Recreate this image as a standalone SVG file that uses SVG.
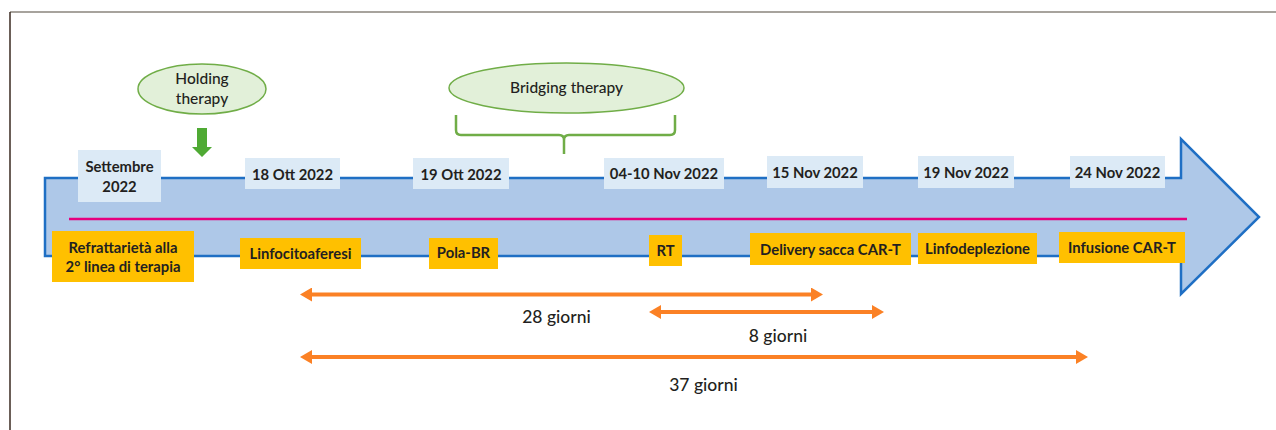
<svg xmlns="http://www.w3.org/2000/svg" width="1276" height="430" viewBox="0 0 1276 430">
<style>
text{font-family:Lato,"Liberation Sans",sans-serif;fill:#231F20;text-anchor:middle}
.date{fill:#DCEAF6}
.lab{fill:#FFC000}
.bt{font-size:14.8px;font-weight:bold}
.et{font-size:15.5px;font-weight:500}
.gt{font-size:17.5px;font-weight:500}
.ell{fill:#E2F0D9;stroke:#70AD47;stroke-width:1.5}
.dur{stroke:#FB8125;stroke-width:4;fill:none;marker-start:url(#ah);marker-end:url(#ah)}
</style>
<defs>
<marker id="ah" viewBox="0 0 12 14" refX="2" refY="7" markerWidth="12" markerHeight="14" markerUnits="userSpaceOnUse" orient="auto-start-reverse">
<path d="M0,0 L12,7 L0,14 z" fill="#FB8125"/>
</marker>
</defs>
<rect width="1276" height="430" fill="#fff"/>
<g id="frame">
<line x1="10" y1="12" x2="1276" y2="12" stroke="#8A857D" stroke-width="1.5"/>
<line x1="10" y1="12" x2="10" y2="430" stroke="#3A2A20" stroke-width="1.5"/>
</g>
<g id="timeline">
<polygon points="45,178 1181,178 1181,139 1259,217 1181,294 1181,256 45,256" fill="#AEC8E8" stroke="#1F6FC4" stroke-width="2.5" stroke-linejoin="miter"/>
<line x1="69" y1="219" x2="1187" y2="219" stroke="#E6007E" stroke-width="2.5"/>
</g>
<g id="holding">
<ellipse class="ell" cx="202" cy="89" rx="64" ry="25"/>
<text class="et" x="202" y="84">Holding</text>
<text class="et" x="202" y="104">therapy</text>
<polygon points="197,128 207,128 207,147 212,147 202,157 192,147 197,147" fill="#4FAA34"/>
</g>
<g id="bridging">
<ellipse class="ell" cx="566.5" cy="88" rx="117.5" ry="25"/>
<text class="et" x="566.5" y="93">Bridging therapy</text>
<path d="M456,115 V130 q0,5 5,5 H559 q5,0 5,5 V154 M675,115 V130 q0,5 -5,5 H569 q-5,0 -5,5" fill="none" stroke="#70AD47" stroke-width="2.5"/>
</g>
<g id="d-set"><rect class="date" x="78" y="150" width="83" height="52"/><text class="bt" x="119.5" y="172">Settembre</text><text class="bt" x="119.5" y="192">2022</text></g>
<g id="d-18ott"><rect class="date" x="245" y="158" width="95" height="31"/><text class="bt" x="292.5" y="180">18 Ott 2022</text></g>
<g id="d-19ott"><rect class="date" x="413" y="158" width="96" height="31"/><text class="bt" x="461" y="179.5">19 Ott 2022</text></g>
<g id="d-0410nov"><rect class="date" x="604" y="158" width="120" height="31"/><text class="bt" x="664" y="179">04-10 Nov 2022</text></g>
<g id="d-15nov"><rect class="date" x="767" y="156" width="96" height="32"/><text class="bt" x="815" y="178">15 Nov 2022</text></g>
<g id="d-19nov"><rect class="date" x="918" y="156" width="96" height="32"/><text class="bt" x="966" y="178">19 Nov 2022</text></g>
<g id="d-24nov"><rect class="date" x="1070" y="156" width="95" height="32"/><text class="bt" x="1117.5" y="178">24 Nov 2022</text></g>
<g id="l-refr"><rect class="lab" x="52" y="231" width="142" height="51"/><text class="bt" x="123" y="252.5">Refrattarietà alla</text><text class="bt" x="123" y="271.5">2° linea di terapia</text></g>
<g id="l-linfo"><rect class="lab" x="240" y="238" width="121" height="31"/><text class="bt" x="300.5" y="258.5">Linfocitoaferesi</text></g>
<g id="l-pola"><rect class="lab" x="429" y="238" width="69" height="31"/><text class="bt" x="463.5" y="258">Pola-BR</text></g>
<g id="l-rt"><rect class="lab" x="649" y="235" width="33" height="31"/><text class="bt" x="665.5" y="256">RT</text></g>
<g id="l-deliv"><rect class="lab" x="750" y="233" width="161" height="32"/><text class="bt" x="830.5" y="254.5">Delivery sacca CAR-T</text></g>
<g id="l-linfodep"><rect class="lab" x="918" y="233" width="119" height="31"/><text class="bt" x="977.5" y="253.5">Linfodeplezione</text></g>
<g id="l-infus"><rect class="lab" x="1059" y="232" width="126" height="31"/><text class="bt" x="1122" y="252.5">Infusione CAR-T</text></g>
<g id="connectors">
<line class="dur" x1="310" y1="294.5" x2="813" y2="294.5"/>
<line class="dur" x1="659" y1="312" x2="874" y2="312"/>
<line class="dur" x1="310" y1="357" x2="1078" y2="357"/>
</g>
<g id="durations">
<text class="gt" x="556.5" y="323">28 giorni</text>
<text class="gt" x="778" y="342">8 giorni</text>
<text class="gt" x="703.5" y="391">37 giorni</text>
</g>
</svg>
